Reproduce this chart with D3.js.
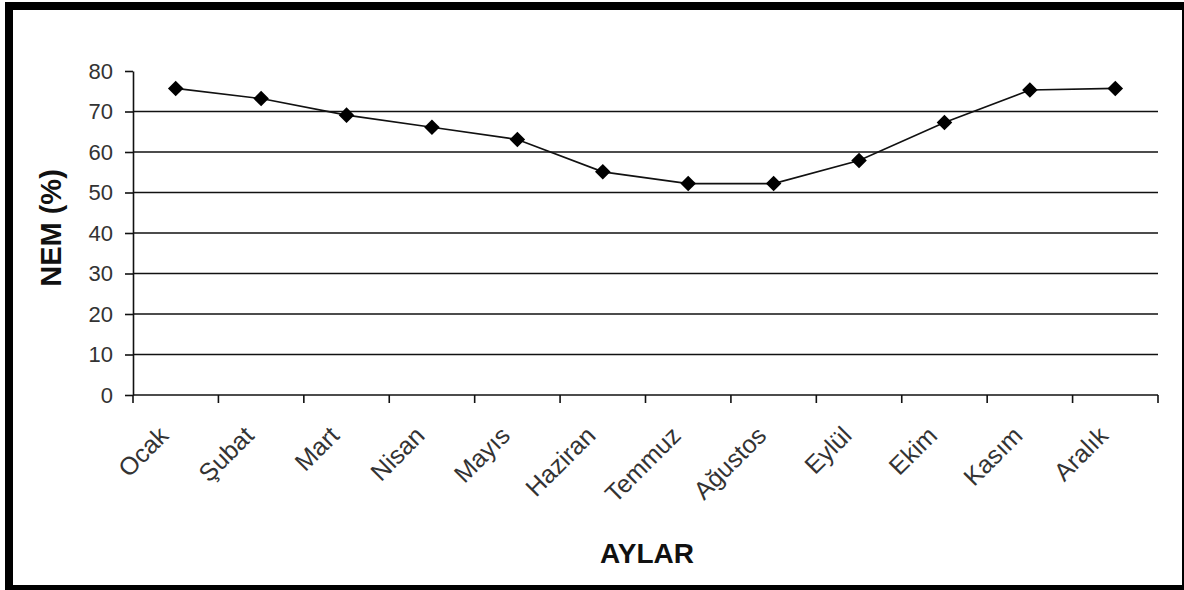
<!DOCTYPE html>
<html>
<head>
<meta charset="utf-8">
<script src="https://cdn.jsdelivr.net/npm/d3@7"></script>
<style>
  body { margin: 0; background: #fff; }
  svg { display: block; font-family: "Liberation Sans", Arial, sans-serif; }
</style>
</head>
<body>
<div id="chart"></div>
<script>
const months = ["Ocak", "Şubat", "Mart", "Nisan", "Mayıs", "Haziran", "Temmuz", "Ağustos", "Eylül", "Ekim", "Kasım", "Aralık"];
const humidity = [75.7, 73.2, 69.1, 66.1, 63.1, 55.1, 52.2, 52.2, 57.9, 67.3, 75.3, 75.7];
const yTicks = [0, 10, 20, 30, 40, 50, 60, 70, 80];
const gridValues = [10, 20, 30, 40, 50, 60, 70];

const width = 1184, height = 590;
const margin = { left: 133, right: 26, top: 71, bottom: 195 };

const svg = d3.select("#chart").append("svg")
  .attr("width", width)
  .attr("height", height);

// outer frame
svg.append("rect")
  .attr("x", 9).attr("y", 6)
  .attr("width", 1177).attr("height", 583)
  .attr("fill", "none")
  .attr("stroke", "#000")
  .attr("stroke-width", 8);

const x = d3.scaleBand()
  .domain(months)
  .range([margin.left, width - margin.right]);

const y = d3.scaleLinear()
  .domain([0, 80])
  .range([height - margin.bottom, margin.top]);

// gridlines
svg.append("g")
  .selectAll("line")
  .data(gridValues)
  .join("line")
  .attr("x1", x.range()[0])
  .attr("x2", x.range()[1])
  .attr("y1", d => y(d))
  .attr("y2", d => y(d))
  .attr("stroke", "#111")
  .attr("stroke-width", 1.6);

// y axis
const yAxis = svg.append("g")
  .attr("transform", `translate(${margin.left},0)`)
  .call(d3.axisLeft(y).tickValues(yTicks).tickSize(8).tickPadding(12).tickSizeOuter(0));
yAxis.select(".domain").attr("stroke", "#111").attr("stroke-width", 1.6);
yAxis.selectAll(".tick line").attr("stroke", "#111").attr("stroke-width", 1.6);
yAxis.selectAll("text")
  .attr("font-size", 22)
  .attr("fill", "#333")
  .style("font-family", "'Liberation Sans', Arial, sans-serif");

// x axis: ticks between categories
const xg = svg.append("g");
xg.append("line")
  .attr("x1", x.range()[0]).attr("x2", x.range()[1])
  .attr("y1", y(0)).attr("y2", y(0))
  .attr("stroke", "#111").attr("stroke-width", 1.6);
const edges = months.map(m => x(m)).concat([x.range()[1]]);
xg.selectAll(".xt")
  .data(edges)
  .join("line")
  .attr("class", "xt")
  .attr("x1", d => d).attr("x2", d => d)
  .attr("y1", y(0)).attr("y2", y(0) + 8)
  .attr("stroke", "#111").attr("stroke-width", 1.6);
xg.selectAll(".xl")
  .data(months)
  .join("text")
  .attr("class", "xl")
  .attr("transform", d => `translate(${x(d) + x.bandwidth() / 2 - 12},${y(0) + 36}) rotate(-45)`)
  .attr("text-anchor", "end")
  .attr("dy", "0.35em")
  .attr("font-size", 25)
  .attr("fill", "#333")
  .text(d => d);

// line + markers
const line = d3.line()
  .x((d, i) => x(months[i]) + x.bandwidth() / 2)
  .y(d => y(d));

svg.append("path")
  .datum(humidity)
  .attr("d", line)
  .attr("fill", "none")
  .attr("stroke", "#111")
  .attr("stroke-width", 1.6);

const diamond = d3.symbol().type(d3.symbolSquare).size(121);
svg.append("g")
  .selectAll("path")
  .data(humidity)
  .join("path")
  .attr("d", diamond)
  .attr("transform", (d, i) => `translate(${x(months[i]) + x.bandwidth() / 2},${y(d)}) rotate(45)`)
  .attr("fill", "#000");

// axis titles
svg.append("text")
  .attr("x", 647).attr("y", 563)
  .attr("text-anchor", "middle")
  .attr("font-size", 28)
  .attr("font-weight", "bold")
  .attr("fill", "#111")
  .text("AYLAR");

svg.append("text")
  .attr("transform", `translate(61,228) rotate(-90)`)
  .attr("text-anchor", "middle")
  .attr("font-size", 29)
  .attr("font-weight", "bold")
  .attr("fill", "#111")
  .text("NEM (%)");
</script>
</body>
</html>
